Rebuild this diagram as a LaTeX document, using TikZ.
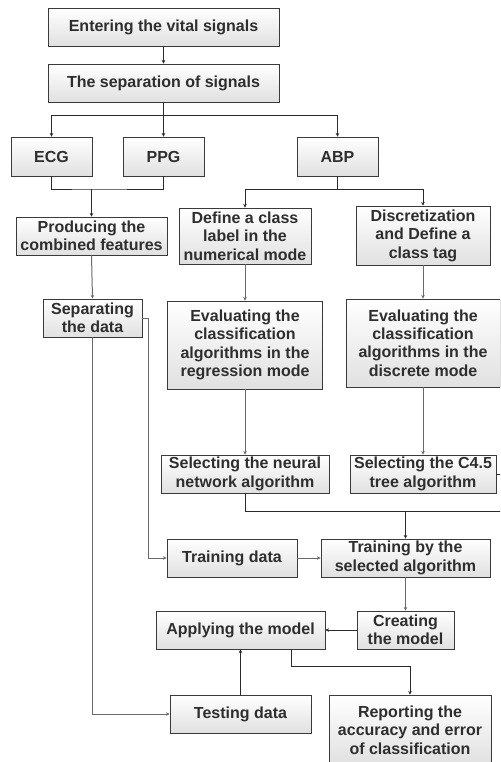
\documentclass[tikz,border=0pt]{standalone}
\usepackage{fontspec}
\setmainfont{Liberation Sans}
\usetikzlibrary{arrows.meta,shadows}
\definecolor{txt}{HTML}{2E2E2E}
\definecolor{bord}{HTML}{3A3A3A}
\definecolor{dk}{HTML}{2A2A2A}
\definecolor{gy}{HTML}{6A6A6A}
\tikzset{
  box/.style={draw=bord, line width=0.95pt, top color=white, bottom color=black!12,
    drop shadow={shadow xshift=0.8pt, shadow yshift=-0.8pt, opacity=0.35, fill=black!60},
    inner sep=0pt, align=center, text=txt,
    font=\fontsize{16}{18.4}\selectfont\bfseries},
  ln/.style={draw=dk, line width=1pt},
  lg/.style={draw=gy, line width=1pt},
  tip/.style={-{Stealth[length=3.5pt,width=3.5pt]}}
}
\begin{document}
\begin{tikzpicture}[x=1pt,y=-1pt]
\path[use as bounding box] (0,0) rectangle (500,762);
\clip (0,0) rectangle (500,762);
\fill[white] (0,0) rectangle (500,762);

\node[box, minimum width=231, minimum height=38] (enter) at (163.5,27) {Entering the vital signals};
\node[box, minimum width=231, minimum height=38] (sep) at (163.5,83) {The separation of signals};
\node[box, minimum width=81, minimum height=39] (ecg) at (51.5,156.5) {ECG};
\node[box, minimum width=81, minimum height=39] (ppg) at (163.5,156.5) {PPG};
\node[box, minimum width=81, minimum height=39] (abp) at (337.5,156.5) {ABP};
\node[box, minimum width=151, minimum height=38] (prod) at (91.5,236) {Producing the\\combined features};
\node[box, minimum width=132, minimum height=56] (define) at (245,236) {Define a class\\label in the\\numerical mode};
\node[box, minimum width=134, minimum height=59] (disc) at (423,235.5) {Discretization\\and Define a\\class tag};
\node[box, minimum width=99, minimum height=38] (separ) at (92.5,318) {Separating\\the data};
\node[box, minimum width=155, minimum height=88] (evalr) at (245,345) {Evaluating the\\classification\\algorithms in the\\regression mode};
\node[box, minimum width=154, minimum height=88] (evald) at (423,343) {Evaluating the\\classification\\algorithms in the\\discrete mode};
\node[box, minimum width=168, minimum height=38] (selnn) at (245,474) {Selecting the neural\\network algorithm};
\node[box, minimum width=146, minimum height=38] (selc) at (423,474) {Selecting the C4.5\\tree algorithm};
\node[box, minimum width=130, minimum height=38] (traind) at (232,558) {Training data};
\node[box, minimum width=169, minimum height=38] (trainby) at (405.5,558) {Training by the\\selected algorithm};
\node[box, minimum width=97, minimum height=38] (creat) at (405.5,630) {Creating\\the model};
\node[box, minimum width=169, minimum height=38] (apply) at (240.5,630) {Applying the model};
\node[box, minimum width=141, minimum height=38] (test) at (240.5,714) {Testing data};
\node[box, minimum width=162, minimum height=70] (report) at (410,730) {Reporting the\\accuracy and error\\of classification};

\coordinate (j1) at (163.5,116);
\coordinate (j2) at (91.5,189);
\coordinate (j3) at (337.5,189);
\coordinate (j4) at (405.5,511);

\draw[ln,tip] (enter) -- (sep);
\draw[ln,tip] (sep) -- (ppg);
\draw[ln,tip] (j1) -| (ecg.north);
\draw[ln,tip] (j1) -| (abp.north);
\draw[ln] (ecg.south) |- (j2) -| (ppg.south);
\draw[ln,tip] (j2) -- (prod.north);
\draw[ln] (abp.south) -- (j3);
\draw[ln,tip] (j3) -| (define.north);
\draw[ln,tip] (j3) -| (disc.north);
\draw[lg,tip] (prod.south) -- (separ.north);
\draw[lg,tip] (define.south) -- (define.south |- evalr.north);
\draw[lg,tip] (disc.south) -- (disc.south |- evald.north);
\draw[lg,tip] (evalr.south) -- (evalr.south |- selnn.north);
\draw[lg,tip] (evald.south) -- (evald.south |- selc.north);
\draw[ln] (selnn.south) |- (j4);
\draw[ln] (selc.east) -- ++(14,0) |- (j4);
\draw[ln,tip] (j4) -- (trainby.north);
\draw[lg,tip] (separ.east) -- ++(6,0) |- (traind.west);
\draw[lg,tip] (traind.east) -- (trainby.west);
\draw[lg,tip] (trainby.south) -- (creat.north);
\draw[ln,tip] (creat.west) -- (apply.east);
\draw[ln,tip] (test.north) -- (apply.south);
\draw[ln,tip] ([xshift=50.5pt]apply.south) -- ++(0,17) -| (report.north);
\draw[lg,tip] (separ.south) |- (test.west);
\end{tikzpicture}
\end{document}
